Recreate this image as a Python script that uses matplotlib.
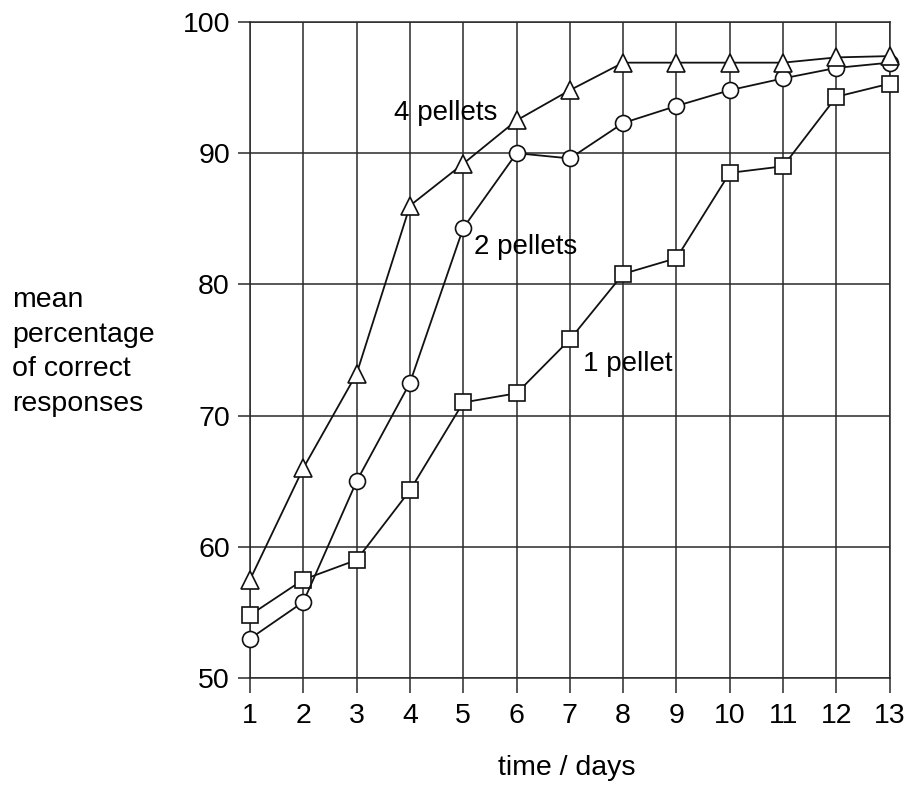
import numpy as np
import matplotlib
matplotlib.use("Agg")
import matplotlib.pyplot as plt

plt.rcParams['font.family'] = ['Liberation Sans', 'DejaVu Sans']

# Data
days = [1, 2, 3, 4, 5, 6, 7, 8, 9, 10, 11, 12, 13]
four_pellets = [57.5, 66.0, 73.2, 86.0, 89.2, 92.5, 94.8, 96.9, 96.9, 96.9, 96.9, 97.3, 97.4]
two_pellets = [53.0, 55.8, 65.0, 72.5, 84.3, 90.0, 89.6, 92.3, 93.6, 94.8, 95.7, 96.5, 96.9]
one_pellet = [54.8, 57.5, 59.0, 64.3, 71.0, 71.7, 75.8, 80.8, 82.0, 88.5, 89.0, 94.3, 95.3]

x_ticks = days
y_ticks = [50, 60, 70, 80, 90, 100]

fig = plt.figure(figsize=(9.06, 7.85), dpi=100)
ax = fig.add_axes([0.276, 0.1363, 0.706, 0.8357])

grid_col = '#2a2a2a'
ax.set_xlim(1, 13)
ax.set_ylim(50, 100)
ax.set_xticks(x_ticks)
ax.set_yticks(y_ticks)
ax.grid(True, color=grid_col, lw=1.1)
ax.set_axisbelow(True)
for s in ax.spines.values():
    s.set_color(grid_col)
    s.set_linewidth(1.1)
ax.tick_params(direction='out', width=1.1, color=grid_col, labelsize=20.5)
ax.tick_params(axis='x', length=11, pad=7)
ax.tick_params(axis='y', length=8.5, pad=6)

style = dict(color='#111111', lw=1.3, markerfacecolor='white',
             markeredgecolor='#111111', markeredgewidth=1.2, clip_on=False, zorder=3)
ax.plot(days, one_pellet, marker='s', markersize=11, **style)
ax.plot(days, two_pellets, marker='o', markersize=11.5, **style)
ax.plot(days, four_pellets, marker='^', markersize=13, **style)

ax.text(3.7, 93.1, '4 pellets', fontsize=20, va='center', ha='left')
ax.text(5.2, 82.85, '2 pellets', fontsize=20, va='center', ha='left')
ax.text(7.24, 73.9, '1 pellet', fontsize=20, va='center', ha='left')

fig.text(12 / 906, 1 - 352 / 785, 'mean\npercentage\nof correct\nresponses',
         fontsize=20.5, ha='left', va='center', linespacing=1.42)
fig.text(567 / 906, 1 - 768 / 785, 'time / days', fontsize=20.5,
         ha='center', va='center')

fig.savefig('out.png', dpi=100)
